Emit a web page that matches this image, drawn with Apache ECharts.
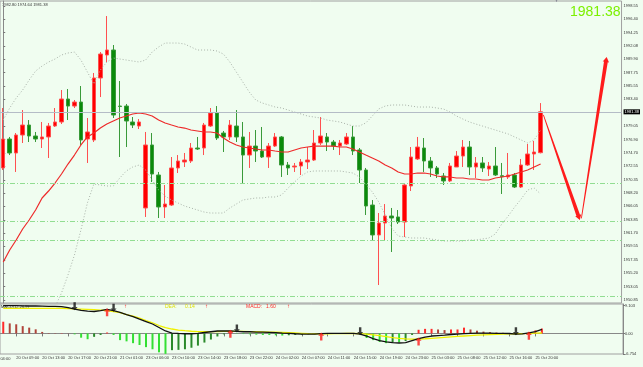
<!DOCTYPE html>
<html><head><meta charset="utf-8">
<script src="https://cdn.jsdelivr.net/npm/echarts@6/dist/echarts.min.js"></script>
<style>html,body{margin:0;padding:0;background:#f0fdf0;overflow:hidden}#c{width:643px;height:367px}</style>
</head><body><div id="c"></div>
<script>
const categories = [
'20 Oct 07:00','20 Oct 08:00','20 Oct 09:00','20 Oct 10:00','20 Oct 11:00','20 Oct 12:00','20 Oct 13:00','20 Oct 14:00','20 Oct 15:00','20 Oct 16:00',
'20 Oct 17:00','20 Oct 18:00','20 Oct 19:00','20 Oct 20:00','20 Oct 21:00','20 Oct 22:00','20 Oct 23:00','21 Oct 00:00','21 Oct 01:00','21 Oct 02:00',
'21 Oct 03:00','21 Oct 04:00','23 Oct 06:00','23 Oct 07:00','23 Oct 08:00','23 Oct 09:00','23 Oct 10:00','23 Oct 11:00','23 Oct 12:00','23 Oct 13:00',
'23 Oct 14:00','23 Oct 15:00','23 Oct 16:00','23 Oct 17:00','23 Oct 18:00','23 Oct 19:00','23 Oct 20:00','23 Oct 21:00','23 Oct 22:00','23 Oct 23:00',
'24 Oct 00:00','24 Oct 01:00','24 Oct 02:00','24 Oct 03:00','24 Oct 04:00','24 Oct 06:00','24 Oct 07:00','24 Oct 08:00','24 Oct 09:00','24 Oct 10:00',
'24 Oct 11:00','24 Oct 12:00','24 Oct 13:00','24 Oct 14:00','24 Oct 15:00','24 Oct 16:00','24 Oct 17:00','24 Oct 18:00','24 Oct 19:00','24 Oct 20:00',
'24 Oct 21:00','24 Oct 22:00','24 Oct 23:00','25 Oct 00:00','25 Oct 01:00','25 Oct 02:00','25 Oct 03:00','25 Oct 04:00','25 Oct 06:00','25 Oct 07:00',
'25 Oct 08:00','25 Oct 09:00','25 Oct 10:00','25 Oct 11:00','25 Oct 12:00','25 Oct 13:00','25 Oct 14:00','25 Oct 15:00','25 Oct 16:00','25 Oct 17:00',
'25 Oct 18:00','25 Oct 19:00','25 Oct 20:00','25 Oct 21:00'];

const opens  = [1972.27,1976.97,1974.70,1977.62,1979.24,1977.46,1976.97,1977.30,1979.08,1979.73,1983.46,1982.32,1982.97,1976.97,1976.81,1986.87,1990.60,1991.41,1982.32,1982.32,
1979.73,1979.08,1965.78,1976.00,1971.13,1965.94,1966.26,1972.27,1973.24,1973.40,1975.51,1975.51,1979.08,1981.19,1977.94,1977.30,1979.08,1977.30,1974.37,1975.83,
1975.02,1974.05,1975.83,1977.30,1972.75,1972.43,1972.59,1973.24,1973.56,1976.32,1977.30,1976.48,1975.83,1976.16,1977.30,1975.19,1971.94,1966.26,1961.40,1963.34,
1964.48,1964.32,1963.50,1969.35,1973.73,1975.51,1973.40,1972.27,1970.97,1970.16,1972.43,1974.21,1975.67,1972.43,1973.08,1972.10,1972.59,1971.02,1970.81,1971.13,
1969.18,1972.75,1974.54,1974.75];
const closes = [1976.97,1974.70,1977.62,1979.24,1977.46,1976.97,1977.30,1979.08,1979.73,1983.46,1982.32,1982.97,1976.81,1978.11,1986.87,1990.76,1991.41,1980.86,1982.24,1979.89,
1979.24,1979.73,1976.00,1971.29,1965.94,1966.42,1972.27,1973.40,1973.56,1975.51,1975.35,1979.24,1981.19,1977.13,1977.30,1979.24,1977.30,1974.37,1975.83,1975.02,
1974.05,1975.83,1977.30,1972.75,1972.27,1972.59,1973.24,1973.56,1976.32,1977.46,1976.48,1975.83,1976.32,1977.30,1975.02,1971.94,1966.10,1961.40,1963.34,1964.48,
1964.15,1963.50,1969.51,1974.05,1975.67,1973.40,1972.27,1971.29,1970.16,1972.59,1974.21,1975.67,1972.43,1973.08,1972.27,1972.59,1971.13,1970.86,1971.13,1969.18,
1972.75,1974.54,1974.86,1981.38];
const lows   = [1971.94,1974.37,1971.62,1976.32,1976.48,1976.48,1975.51,1973.89,1978.92,1979.40,1980.05,1982.00,1976.00,1973.08,1976.48,1983.78,1989.46,1980.38,1974.05,1975.67,
1978.75,1978.59,1964.32,1969.99,1964.15,1964.15,1966.10,1971.45,1972.43,1973.08,1975.19,1974.37,1978.92,1976.81,1974.86,1976.81,1976.48,1969.83,1972.27,1973.24,
1973.89,1972.27,1975.67,1970.81,1971.13,1971.62,1971.13,1972.10,1973.40,1976.00,1975.02,1975.19,1974.37,1976.00,1974.37,1969.83,1964.64,1960.58,1953.28,1960.58,
1958.64,1963.18,1961.07,1968.53,1973.56,1971.62,1970.81,1970.64,1969.51,1969.99,1972.43,1972.43,1971.13,1970.64,1971.62,1970.97,1970.97,1968.05,1970.48,1969.02,
1969.02,1972.59,1971.94,1974.64];
const highs  = [1982.00,1977.30,1977.94,1981.67,1980.05,1978.11,1979.73,1979.57,1982.00,1984.92,1985.08,1983.30,1985.57,1980.38,1987.68,1991.08,1996.92,1992.22,1986.38,1982.65,
1980.54,1980.21,1978.11,1977.94,1971.62,1969.51,1974.05,1974.37,1974.70,1976.32,1977.30,1979.57,1982.00,1982.32,1978.27,1980.05,1981.67,1979.73,1978.11,1978.43,
1978.92,1976.32,1977.94,1977.46,1973.24,1973.08,1973.73,1975.67,1978.43,1980.54,1977.94,1976.81,1976.81,1977.94,1979.08,1975.51,1972.27,1967.07,1964.96,1966.42,
1965.78,1965.45,1969.83,1975.67,1977.30,1977.13,1974.05,1972.59,1971.45,1973.08,1975.02,1976.81,1976.65,1974.05,1974.05,1973.24,1975.67,1973.08,1974.70,1971.45,
1973.73,1976.16,1976.65,1982.80];

const bollMid = [1957.02,1958.96,1960.58,1962.37,1963.83,1965.45,1967.40,1968.53,1969.83,1971.29,1972.91,1974.37,1976.00,1977.30,1977.94,1978.75,1979.40,1979.89,1980.38,1980.70,
1981.03,1981.19,1981.03,1980.70,1980.05,1979.57,1979.24,1978.92,1978.75,1978.43,1978.27,1978.11,1978.11,1977.94,1977.13,1976.48,1976.00,1975.67,1975.51,1975.35,
1975.19,1975.19,1975.02,1974.86,1974.86,1975.19,1975.51,1975.67,1975.83,1975.83,1975.83,1975.83,1975.67,1975.67,1975.35,1974.86,1974.37,1973.89,1973.40,1972.75,
1972.27,1971.62,1971.29,1971.29,1971.45,1971.45,1971.29,1970.97,1970.81,1970.81,1970.64,1970.64,1970.48,1970.48,1970.32,1970.32,1970.64,1970.81,1970.97,1971.29,
1971.62,1971.94,1972.43,1972.91];
const bollUpper = [1980.05,1982.00,1983.62,1984.92,1986.54,1988.00,1988.81,1989.46,1989.95,1990.60,1990.92,1991.08,1989.79,1987.84,1985.89,1988.16,1989.46,1990.11,1989.95,1989.79,
1989.62,1989.46,1989.79,1991.08,1991.90,1992.54,1992.54,1992.54,1992.38,1991.90,1991.41,1991.41,1991.41,1991.25,1990.76,1989.46,1987.84,1986.22,1984.59,1983.30,
1982.81,1982.49,1982.16,1982.00,1981.67,1981.35,1981.03,1980.70,1980.54,1980.38,1980.05,1979.89,1979.73,1979.40,1979.08,1979.08,1979.57,1980.70,1981.84,1982.32,
1982.49,1982.49,1982.49,1982.32,1982.16,1982.16,1982.16,1982.00,1981.84,1981.35,1980.70,1980.21,1979.73,1979.40,1979.08,1978.75,1978.43,1978.11,1977.78,1977.30,
1976.81,1976.32,1976.81,1978.43];
const bollLower = [null,null,null,null,null,1942.90,1945.98,1947.61,1949.72,1951.99,1954.91,1958.15,1962.21,1966.59,1969.67,1969.51,1969.35,1969.35,1970.64,1971.78,
1972.43,1972.75,1971.94,1970.32,1968.70,1967.72,1967.07,1966.59,1966.10,1965.78,1965.45,1965.13,1964.96,1964.96,1964.96,1965.78,1966.42,1967.07,1967.24,1967.40,
1967.40,1967.56,1967.56,1967.89,1969.02,1969.99,1970.97,1971.62,1971.78,1971.78,1971.78,1971.78,1971.78,1971.62,1971.45,1970.81,1969.67,1968.37,1966.75,1964.64,
1962.53,1961.23,1961.07,1960.91,1960.91,1960.91,1960.75,1960.58,1960.42,1960.42,1960.42,1960.42,1960.58,1960.58,1960.75,1960.91,1961.56,1963.18,1964.48,1965.94,
1967.24,1968.70,1969.02,1968.05];

const currentPrice = 1981.38;
const levelLines = [1969.83, 1963.67, 1960.58, 1951.50];
const priceTicks = ['1998.55','1996.40','1994.25','1992.08','1989.90','1987.75','1985.55','1983.40','1981.38','1979.05','1976.90','1974.70',
'1972.55','1970.35','1968.20','1966.05','1963.85','1961.70','1959.55','1957.35','1955.20','1953.05','1950.85'];
const macdTicks = ['9.103','0.00','-6.754'];

const macdHist = [3.84,3.3,3.0,2.4,1.9,1.35,0.5,0.15,0.1,0.1,0.05,-0.3,-1.4,-1.9,-1.1,-0.5,0.3,-0.5,-2.2,-2.6,
-3.2,-3.8,-4.5,-5.2,-6.2,-6.7,-5.5,-5.4,-5.2,-4.7,-4.0,-3.0,-2.0,-1.0,-0.3,0.1,-0.1,-0.2,-0.3,-0.4,
-0.5,-0.5,-0.6,-0.7,-0.6,-0.5,-0.4,-0.3,-0.2,0.1,0.1,0.1,0.15,0.1,0.05,-0.3,-1.5,-2.2,-2.8,-3.2,
-3.0,-3.0,-2.5,-0.5,1.2,1.5,1.5,1.3,1.1,1.3,1.3,1.9,1.3,0.9,0.6,0.4,0.3,0.2,0.1,-0.3,
-0.2,0.5,1.0,1.6];
const macdDif = [9.1,9.1,9.1,9.05,9.0,9.0,8.95,8.9,8.85,8.8,8.5,8.0,7.6,7.3,7.2,7.5,7.9,7.5,6.9,6.2,
5.55,4.7,3.9,3.1,1.95,0.8,0.13,0.0,-0.1,-0.1,0.0,0.3,0.55,0.8,0.8,0.85,0.7,0.55,0.55,0.45,
0.4,0.35,0.25,0.1,0.05,-0.1,-0.2,-0.25,-0.2,-0.05,0.05,0.05,0.05,0.05,0.03,-0.2,-0.85,-1.7,-2.35,-2.75,
-3.0,-3.15,-3.0,-2.35,-1.7,-1.2,-0.85,-0.7,-0.55,-0.35,-0.2,-0.05,0.05,0.1,0.1,0.1,0.05,0.03,-0.03,-0.2,
-0.15,0.15,0.6,1.3];
const macdDea = [8.24,8.24,8.24,8.24,8.24,8.24,8.24,8.24,8.24,8.24,8.17,8.08,8.0,7.9,7.8,7.68,7.52,7.19,6.8,6.2,
5.7,5.05,4.24,3.5,2.6,1.94,1.45,1.1,0.9,0.72,0.62,0.56,0.56,0.62,0.69,0.69,0.69,0.66,0.62,0.58,
0.52,0.46,0.4,0.33,0.25,0.15,0.05,-0.05,-0.12,-0.15,-0.12,-0.08,-0.05,-0.02,0.0,-0.05,-0.2,-0.45,-0.75,-1.05,
-1.35,-1.6,-1.8,-1.9,-1.85,-1.75,-1.6,-1.45,-1.3,-1.15,-1.0,-0.85,-0.7,-0.58,-0.47,-0.38,-0.3,-0.22,-0.15,-0.1,
-0.05,0.0,0.07,0.14];
const crossUp = [16, 35, 49, 64, 81];
const crossDown = [11, 17, 36, 55, 79];

// hand-drawn forecast arrows: [fromIndex, fromPrice, toIndex, toPrice]
const forecastArrows = [[83.43, 1980.87, 89.06, 1963.83], [89.3, 1964.1, 93.2, 1990.28]];

const SLOTS = 96;
const slotCats = categories.concat(new Array(SLOTS - categories.length).fill(''));
const candleData = opens.map((o, i) => [o, closes[i], lows[i], highs[i]]);
const histData = macdHist.map((v, i) => {
  const prev = i > 0 ? macdHist[i - 1] : v;
  let c;
  if (v >= 0) c = v >= prev ? '#ff2b2b' : '#b0443a';
  else c = v <= prev ? '#33e033' : '#2a8a2a';
  return { value: v, itemStyle: { color: c } };
});
const FONT = '"Liberation Sans", Arial, sans-serif';
const labelIdx = (i) => i % 4 === 2 && i < categories.length;

const chart = echarts.init(document.getElementById('c'), null, { renderer: 'canvas' });
chart.setOption({
  animation: false,
  backgroundColor: '#f0fdf0',
  textStyle: { fontFamily: FONT },
  grid: [
    { left: -2.75, right: 20, top: 1, height: 302, show: true, borderColor: '#a0a0a0', borderWidth: 1, backgroundColor: 'transparent' },
    { left: -2.75, right: 20, top: 304, height: 50, show: true, borderColor: '#a0a0a0', borderWidth: 1, backgroundColor: 'transparent' }
  ],
  xAxis: [
    { type: 'category', gridIndex: 0, data: slotCats, boundaryGap: true, show: false },
    { type: 'category', gridIndex: 1, data: slotCats, boundaryGap: true, position: 'bottom',
      axisLine: { show: true, lineStyle: { color: '#888', width: 1 } },
      axisTick: { show: true, interval: labelIdx, alignWithLabel: true, length: 3, lineStyle: { color: '#777' } },
      axisLabel: { show: true, interval: labelIdx, align: 'left', fontSize: 4, color: '#333', margin: 2, fontFamily: FONT },
      splitLine: { show: false } },
    { type: 'value', gridIndex: 0, min: -0.5, max: SLOTS - 0.5, show: false }
  ],
  yAxis: [
    { type: 'value', gridIndex: 0, position: 'right', min: 1950.363, max: 1999.361, scale: true,
      axisLine: { show: true, lineStyle: { color: '#888', width: 1 } },
      axisTick: { show: true, length: 2, customValues: priceTicks.map(Number), lineStyle: { color: '#777' } },
      axisLabel: { show: true, margin: 2, fontSize: 4, color: '#333', fontFamily: FONT,
        customValues: priceTicks.map(Number),
        formatter: (v) => { const s = priceTicks.find(t => Math.abs(Number(t) - v) < 1e-6) || v.toFixed(2); return Number(s) === currentPrice ? '{hl|' + s + '}' : s; },
        rich: { hl: { backgroundColor: '#000', color: '#fff', fontSize: 4, padding: [1, 1, 0, 1], fontFamily: FONT } } },
      splitLine: { show: false } },
    { type: 'value', gridIndex: 1, position: 'right', min: -6.754, max: 9.661,
      axisLine: { show: true, lineStyle: { color: '#888', width: 1 } },
      axisTick: { show: true, length: 2, customValues: macdTicks.map(Number), lineStyle: { color: '#777' } },
      axisLabel: { show: true, margin: 2, fontSize: 4, color: '#333', fontFamily: FONT,
        customValues: macdTicks.map(Number),
        formatter: (v) => macdTicks.find(t => Math.abs(Number(t) - v) < 1e-6) || String(v) },
      splitLine: { show: false } }
  ],
  series: [
    { type: 'candlestick', xAxisIndex: 0, yAxisIndex: 0, data: candleData, barWidth: 4, z: 2,
      itemStyle: { color: '#ff0000', color0: '#0a8a0a', borderColor: '#ff5050', borderColor0: '#3a9a3a', borderWidth: 1 },
      markLine: { silent: true, symbol: 'none', label: { show: false }, animation: false,
        data: [ { yAxis: currentPrice, lineStyle: { color: '#b4bcc6', type: 'solid', width: 1 } } ]
          .concat(levelLines.map(v => ({ yAxis: v, lineStyle: { color: '#92dd92', type: [5, 2, 1, 2], width: 1 } }))) } },
    { type: 'line', xAxisIndex: 0, yAxisIndex: 0, data: bollMid, symbol: 'none', z: 4, lineStyle: { color: '#ee2a2a', width: 1.2 } },
    { type: 'line', xAxisIndex: 0, yAxisIndex: 0, data: bollUpper, symbol: 'none', z: 3, lineStyle: { color: '#a9b2a9', width: 1, type: [1, 2] } },
    { type: 'line', xAxisIndex: 0, yAxisIndex: 0, data: bollLower, symbol: 'none', z: 3, connectNulls: false, lineStyle: { color: '#a9b2a9', width: 1, type: [1, 2] } },
    { type: 'custom', xAxisIndex: 2, yAxisIndex: 0, data: forecastArrows, z: 6, clip: false,
      encode: { x: [0, 2], y: [1, 3] },
      renderItem: (params, api) => {
        const p0 = api.coord([api.value(0), api.value(1)]);
        const p1 = api.coord([api.value(2), api.value(3)]);
        const dx = p1[0] - p0[0], dy = p1[1] - p0[1], len = Math.hypot(dx, dy);
        const ux = dx / len, uy = dy / len, nx = -uy, ny = ux;
        const hl = 5, hw = 3.2, w0 = 0.4, w1 = 1.9;
        const bx = p1[0] - ux * hl, by = p1[1] - uy * hl;
        return { type: 'polygon', shape: { points: [
          [p0[0] + nx * w0, p0[1] + ny * w0], [bx + nx * w1, by + ny * w1], [bx + nx * hw, by + ny * hw], p1,
          [bx - nx * hw, by - ny * hw], [bx - nx * w1, by - ny * w1], [p0[0] - nx * w0, p0[1] - ny * w0] ] },
          style: { fill: '#ff1c1c' } };
      } },
    { type: 'bar', xAxisIndex: 1, yAxisIndex: 1, data: histData, barWidth: 2, z: 2 },
    { type: 'line', xAxisIndex: 1, yAxisIndex: 1, data: macdDea, symbol: 'none', z: 3, lineStyle: { color: '#f0f000', width: 1.3 } },
    { type: 'line', xAxisIndex: 1, yAxisIndex: 1, data: macdDif, symbol: 'none', z: 4, lineStyle: { color: '#111', width: 1.3 } },
    { type: 'scatter', xAxisIndex: 1, yAxisIndex: 1, z: 5, data: crossUp.map(i => [i, macdDif[i]]),
      symbol: 'path://M5,0 L10,5 L7,5 L7,12 L3,12 L3,5 L0,5 Z', symbolSize: [6, 8], symbolOffset: [0, '35%'],
      itemStyle: { color: '#ff1a1a' } },
    { type: 'scatter', xAxisIndex: 1, yAxisIndex: 1, z: 5, data: crossDown.map(i => [i, macdDif[i]]),
      symbol: 'path://M3,0 L7,0 L7,7 L10,7 L5,12 L0,7 L3,7 Z', symbolSize: [6, 8], symbolOffset: [0, '-35%'],
      itemStyle: { color: '#111' } }
  ],
  graphic: [
    { type: 'text', left: 2, top: 3, style: { text: '1982.80 1974.64 1981.38', fontSize: 4, fill: '#333', fontFamily: FONT } },
    { type: 'text', x: 570, y: 5, style: { text: '1981.38', fontSize: 14, fill: '#7cf000', fontFamily: FONT } },
    { type: 'text', left: 555, top: 0, style: { text: '▼', fontSize: 3, fill: '#778' } },
    { type: 'text', left: -12.5, top: 357, style: { text: '20 Oct 04:00', fontSize: 4, fill: '#333', fontFamily: FONT } },
    { type: 'text', left: 1, top: 305, style: { text: 'MACD(12,26,9)', fontSize: 4, fill: '#222', fontFamily: FONT } },
    { type: 'text', left: 124, top: 303, style: { text: '↑', fontSize: 6, fill: '#ff2020', fontFamily: FONT } },
    { type: 'text', left: 165, top: 304, style: { text: 'DEA:', fontSize: 5, fill: '#dede00', fontFamily: FONT } },
    { type: 'text', left: 185, top: 304, style: { text: '0.14', fontSize: 5, fill: '#dede00', fontFamily: FONT } },
    { type: 'text', left: 205, top: 303, style: { text: '↑', fontSize: 6, fill: '#ff2020', fontFamily: FONT } },
    { type: 'text', left: 246, top: 304, style: { text: 'MACD:', fontSize: 5, fill: '#ff2a2a', fontFamily: FONT } },
    { type: 'text', left: 266, top: 304, style: { text: '1.60', fontSize: 5, fill: '#ff2a2a', fontFamily: FONT } },
    { type: 'text', left: 287, top: 303, style: { text: '↑', fontSize: 6, fill: '#ff2020', fontFamily: FONT } }
  ]
});
</script></body></html>
